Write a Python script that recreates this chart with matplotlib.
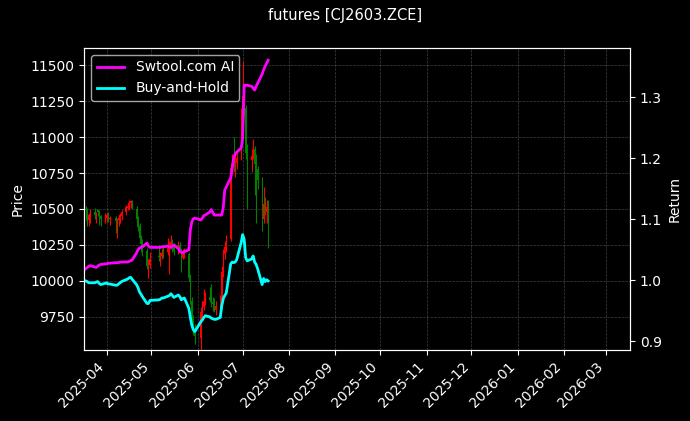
import matplotlib
matplotlib.use("Agg")
import matplotlib.pyplot as plt
import matplotlib.dates as mdates
import pandas as pd

TITLE = "futures [CJ2603.ZCE]"
HOLIDAYS = ["2025-04-04", "2025-05-01", "2025-05-02", "2025-05-05", "2025-06-02"]
dates = pd.bdate_range("2025-03-17", "2025-07-18", freq="C", holidays=HOLIDAYS)

# daily OHLC
opens = [10530, 10500, 10490, 10420, 10440, 10480, 10440, 10490, 10470, 10450,
         10420, 10440, 10460, 10430, 10440, 10400, 10420, 10430, 10450, 10480,
         10510, 10520, 10540, 10550, 10500, 10430, 10380, 10300, 10260, 10210,
         10060, 10110, 10170, 10160, 10170, 10210, 10200, 10230, 10240, 10270,
         10240, 10200, 10250, 10210, 10160, 10180, 10190, 10020, 9860, 9730,
         9660, 9600, 9780, 9820, 9860, 9890, 9870, 9850, 9830, 9800,
         9830, 9860, 10060, 10190, 10240, 10290, 10790, 10840, 10800, 10820,
         10860, 11150, 11290, 11200, 10900, 10840, 10870, 10920, 10860, 10780,
         10700, 10430, 10530, 10480, 10510]
highs = [10545, 10520, 10510, 10470, 10500, 10510, 10480, 10500, 10490, 10460,
         10470, 10470, 10480, 10450, 10450, 10440, 10460, 10470, 10490, 10530,
         10540, 10560, 10560, 10560, 10520, 10450, 10400, 10320, 10290, 10230,
         10150, 10200, 10250, 10200, 10230, 10240, 10300, 10280, 10320, 10290,
         10260, 10280, 10270, 10230, 10220, 10230, 10200, 10050, 9890, 9760,
         9700, 9820, 9860, 9940, 9920, 9960, 9980, 9890, 9880, 9860,
         9900, 10100, 10220, 10280, 10320, 10820, 10880, 11000, 10900, 10920,
         11200, 11530, 11350, 11220, 10950, 10920, 10990, 10940, 10880, 10800,
         10720, 10650, 10580, 10560, 10560]
lows = [10460, 10420, 10380, 10380, 10400, 10430, 10400, 10450, 10390, 10380,
        10400, 10410, 10410, 10390, 10330, 10300, 10380, 10400, 10420, 10460,
        10490, 10500, 10510, 10500, 10410, 10350, 10280, 10200, 10170, 10080,
        10020, 10090, 10140, 10100, 10150, 10160, 10180, 10050, 10220, 10200,
        10180, 10190, 10200, 10060, 10150, 10160, 10000, 9840, 9700, 9620,
        9560, 9500, 9740, 9800, 9830, 9850, 9820, 9790, 9780, 9760,
        9800, 9840, 10030, 10150, 10200, 10280, 10740, 10760, 10720, 10780,
        10840, 11100, 11150, 10850, 10500, 10760, 10850, 10600, 10400, 10640,
        10350, 10400, 10460, 10400, 10230]
closes = [10500, 10490, 10479, 10458, 10458, 10458, 10469, 10479, 10448, 10427,
          10448, 10458, 10437, 10437, 10416, 10416, 10437, 10458, 10479, 10511,
          10521, 10542, 10553, 10521, 10427, 10374, 10301, 10259, 10217, 10101,
          10101, 10154, 10164, 10175, 10196, 10196, 10227, 10238, 10269, 10238,
          10206, 10248, 10217, 10164, 10185, 10196, 10017, 9860, 9723, 9650,
          9618, 9786, 9818, 9860, 9891, 9870, 9849, 9839, 9828, 9828,
          9860, 10059, 10185, 10238, 10280, 10784, 10815, 10805, 10815, 10857,
          11151, 11288, 11204, 10889, 10836, 10868, 10920, 10815, 10773, 10700,
          10427, 10532, 10479, 10511, 10490]

# strategy equity curve
ai_return = [1.017, 1.019, 1.021, 1.023, 1.024, 1.022, 1.021, 1.023, 1.025, 1.026,
             1.027, 1.027, 1.028, 1.028, 1.029, 1.029, 1.029, 1.030, 1.030, 1.030,
             1.030, 1.031, 1.032, 1.033, 1.045, 1.050, 1.053, 1.054, 1.055, 1.061,
             1.056, 1.054, 1.054, 1.054, 1.055, 1.055, 1.056, 1.055, 1.054, 1.056,
             1.058, 1.052, 1.047, 1.046, 1.045, 1.047, 1.050, 1.083, 1.096, 1.101,
             1.102, 1.099, 1.102, 1.106, 1.107, 1.112, 1.116, 1.111, 1.107, 1.107,
             1.107, 1.107, 1.119, 1.148, 1.153, 1.168, 1.184, 1.201, 1.207, 1.210,
             1.217, 1.233, 1.320, 1.320, 1.320, 1.318, 1.315, 1.312, 1.318, 1.323,
             1.338, 1.345, 1.351, 1.356, 1.361]

df = pd.DataFrame({"open": opens, "high": highs, "low": lows, "close": closes,
                   "ai": ai_return}, index=dates)
df["bh"] = df["close"] / df["close"].iloc[0]

plt.style.use("dark_background")
fig, ax = plt.subplots(figsize=(6.9, 4.21), dpi=100)
fig.subplots_adjust(left=0.122, right=0.913, top=0.886, bottom=0.169)

up = df["close"] >= df["open"]
colors = ["red" if u else "green" for u in up]
ax.vlines(df.index, df["low"], df["high"], colors=colors, linewidth=0.8)
body = (df["close"] - df["open"]).abs().clip(lower=8)
ax.bar(df.index, body, bottom=df[["open", "close"]].min(axis=1), width=0.8,
       color=colors, linewidth=0)

ax.set_ylim(9520, 11620)
ax.set_xlim(pd.Timestamp("2025-03-17"), pd.Timestamp("2026-03-17"))
ax.set_ylabel("Price")
ax.grid(True, color="gray", linestyle="--", linewidth=0.5, alpha=0.5)
ax.xaxis.set_major_locator(mdates.MonthLocator())
ax.xaxis.set_major_formatter(mdates.DateFormatter("%Y-%m"))
plt.setp(ax.get_xticklabels(), rotation=45, ha="right")

ax2 = ax.twinx()
ax2.plot(df.index, df["ai"], color="magenta", linewidth=2, label="Swtool.com AI")
ax2.plot(df.index, df["bh"], color="cyan", linewidth=2, label="Buy-and-Hold")
ax2.set_ylim(0.886, 1.381)
ax2.set_ylabel("Return")
ax2.legend(loc="upper left")

fig.suptitle(TITLE, fontsize=10.5)
fig.savefig("out.png")
